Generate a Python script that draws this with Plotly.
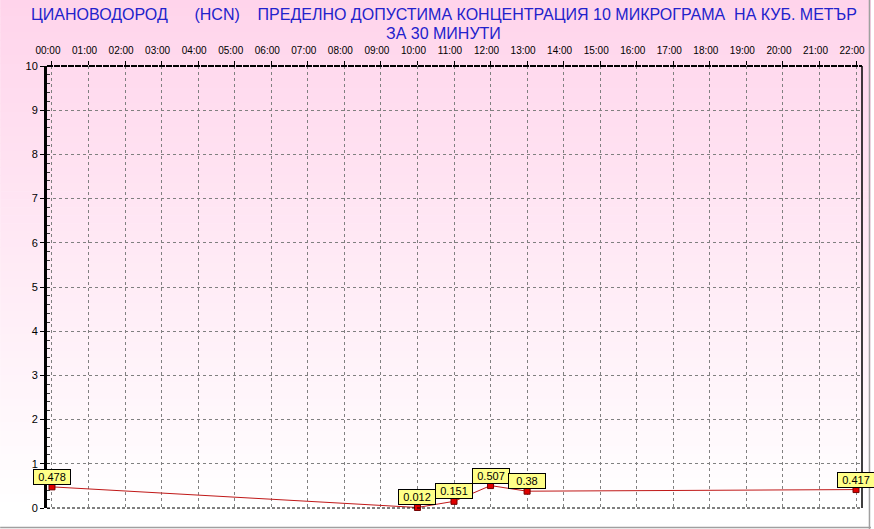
import plotly.graph_objects as go

# ---- data ----
hours = [0, 10, 11, 12, 13, 22]
values = [0.478, 0.012, 0.151, 0.507, 0.38, 0.417]
tick_hours = list(range(0, 23))
tick_labels = [f"{h:02d}:00" for h in tick_hours]
title_line1 = ("ЦИАНОВОДОРОД\u00a0\u00a0\u00a0\u00a0\u00a0\u00a0(HCN)\u00a0\u00a0\u00a0\u00a0"
               "ПРЕДЕЛНО ДОПУСТИМА КОНЦЕНТРАЦИЯ 10 МИКРОГРАМА\u00a0\u00a0НА КУБ. МЕТЪР")
title_line2 = "ЗА 30 МИНУТИ"

W, H = 874, 529
L, R, T, B = 47, 865, 66, 508

def py(p):  # pixel y -> paper y
    return (B - p) / (B - T)

def px(p):
    return (p - L) / (R - L)

fig = go.Figure()
fig.add_trace(go.Scatter(
    x=hours, y=values, mode="lines+markers",
    line=dict(color="#c01818", width=1),
    marker=dict(symbol="square", size=6, color="#e00000",
                line=dict(color="#700000", width=1)),
    hoverinfo="skip", showlegend=False, cliponaxis=False))

shapes = []
# background gradient bands
N = 64
top_c = (255, 212, 235)
for i in range(N):
    y0 = 510 * i / N
    y1 = 510 * (i + 1) / N + 0.6
    t = (i + 0.5) / N
    c = tuple(int(round(top_c[k] + (255 - top_c[k]) * t)) for k in range(3))
    shapes.append(dict(type="rect", xref="paper", yref="paper",
                       x0=px(0), x1=px(W), y0=py(y1), y1=py(y0),
                       fillcolor=f"rgb{c}", line=dict(width=0), layer="below"))
# frame lines
shapes += [
    dict(type="line", xref="paper", yref="paper", x0=0, x1=1, y0=1, y1=1,
         line=dict(color="black", width=2, dash="6px,1px"), layer="above"),
    dict(type="line", xref="paper", yref="paper", x0=1, x1=1, y0=0, y1=1,
         line=dict(color="black", width=1.5), layer="above"),
    dict(type="line", xref="paper", yref="paper", x0=0, x1=1, y0=0, y1=0,
         line=dict(color="black", width=1, dash="3px,2px"), layer="above"),
    dict(type="line", xref="paper", yref="paper", x0=px(0), x1=px(W), y0=py(527.5), y1=py(527.5),
         line=dict(color="#a0a0a0", width=1.5), layer="above"),
    dict(type="line", xref="paper", yref="paper", x0=px(872.5), x1=px(872.5), y0=py(0), y1=py(529),
         line=dict(color="#a0a0a0", width=1.5), layer="above"),
]

annotations = []
for h, v in zip(hours, values):
    annotations.append(dict(
        x=h, y=v, xref="x", yref="y", text=str(v), showarrow=False,
        xanchor="center", yanchor="bottom", yshift=2,
        font=dict(family="Liberation Sans, Arial", size=11, color="black"),
        bgcolor="#ffff88", bordercolor="black", borderwidth=1, borderpad=1,
        width=34, height=12))

title_font = dict(family="Liberation Sans, Arial", size=16, color="#2222cc")
annotations.append(dict(x=px(445), y=py(15), xref="paper", yref="paper", text=title_line1,
                        showarrow=False, xanchor="center", yanchor="middle", font=title_font))
annotations.append(dict(x=px(445), y=py(33), xref="paper", yref="paper", text=title_line2,
                        showarrow=False, xanchor="center", yanchor="middle", font=title_font))

x0 = -5 / 36.68
x1 = 22 + 6 / 36.68
tick_font = dict(family="Liberation Sans Narrow, Arial", size=10, color="black")

fig.update_layout(
    width=W, height=H,
    margin=dict(l=L, r=W - R, t=T, b=H - B, pad=0),
    paper_bgcolor="white", plot_bgcolor="rgba(0,0,0,0)",
    shapes=shapes, annotations=annotations,
    xaxis=dict(range=[x0, x1], side="top", tickvals=tick_hours, ticktext=tick_labels,
               showgrid=True, gridcolor="#808080", griddash="3px,3px", gridwidth=1,
               ticks="outside", ticklen=4, tickcolor="black", tickfont=tick_font,
               showline=False, zeroline=False, ticklabelshift=-4, ticklabelstandoff=3,
               fixedrange=True),
    yaxis=dict(range=[0, 10], tickvals=list(range(11)), showgrid=True,
               gridcolor="#808080", griddash="3px,3px", gridwidth=1,
               ticks="outside", ticklen=4, tickcolor="black",
               tickfont=dict(family="Liberation Sans, Arial", size=11, color="black"),
               showline=True, linecolor="black", linewidth=3, zeroline=False,
               minor=dict(ticks="inside", ticklen=3, dtick=0.2, tickcolor="#333333", showgrid=False),
               fixedrange=True),
)

fig.write_html("out.html", config={"displayModeBar": False},
               post_script="document.body.style.margin='0';document.body.style.overflow='hidden';")
